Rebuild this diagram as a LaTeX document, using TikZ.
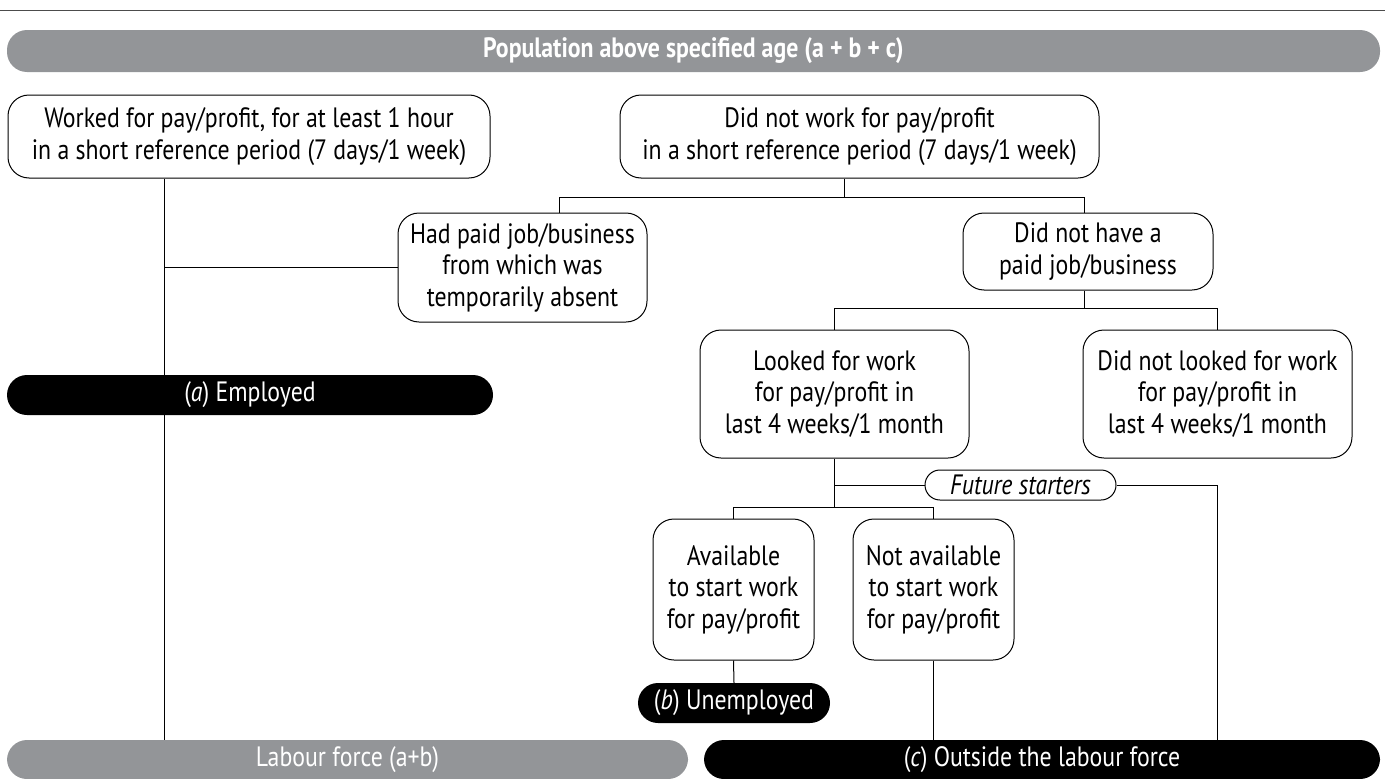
\documentclass[tikz,border=0pt]{standalone}
\usepackage{fontspec}
\setmainfont[FakeStretch=0.85]{PT Sans}
\definecolor{barGrey}{RGB}{147,149,152}
\begin{document}
\begin{tikzpicture}[x=1pt,y=-1pt,
    box/.style={draw, line width=1pt, rounded corners=21pt, align=center, inner sep=0pt},
    darkbar/.style={fill=black, text=white, rounded corners=20pt, inner sep=0pt},
    greybar/.style={fill=barGrey, text=white, rounded corners=20pt, inner sep=0pt},
    font=\fontsize{28}{31.5}\selectfont]
        \useasboundingbox (0,0) rectangle (1385,779);
        % \draw[help lines, gray!50, very thin] (0,0) grid[step=100] (1385,779);

        \draw[line width=1pt, black!70] (0,10) -- (1385,10);

        \node[greybar, minimum width=1373pt, minimum height=42pt] (pop) at (693.5,51) {\textbf{Population above specified age (a + b + c)}};

        \node[box, minimum width=482pt, minimum height=83pt] (work) at (249,136.5) {Worked for pay/profit, for at least 1 hour\\in a short reference period (7 days/1 week)};
        \node[box, minimum width=479pt, minimum height=83pt] (notwork) at (859.5,136.5) {Did not work for pay/profit\\in a short reference period (7 days/1 week)};

        \node[box, minimum width=249pt, minimum height=109pt] (absent) at (522.5,267.5) {Had paid job/business\\from which was\\temporarily absent};
        \node[box, minimum width=250pt, minimum height=77pt] (nojob) at (1088,251.5) {Did not have a\\paid job/business};

        \node[darkbar, minimum width=486pt, minimum height=40pt] (emp) at (250,395) {(\textit{a}) Employed};

        \node[box, minimum width=269pt, minimum height=128pt] (looked) at (834.5,394) {Looked for work\\for pay/profit in\\last 4 weeks/1 month};
        \node[box, minimum width=269pt, minimum height=128pt] (notlooked) at (1217.5,394) {Did not looked for work\\for pay/profit in\\last 4 weeks/1 month};

        \node[box, rounded corners=15pt, minimum width=191pt, minimum height=30pt] (future) at (1020.5,485) {\itshape Future starters};

        \node[box, minimum width=161pt, minimum height=141pt] (avail) at (733.5,589.5) {Available\\to start work\\for pay/profit};
        \node[box, minimum width=161pt, minimum height=141pt] (notavail) at (933.5,589.5) {Not available\\to start work\\for pay/profit};

        \node[darkbar, minimum width=192pt, minimum height=40pt] (unemp) at (734,703) {(\textit{b}) Unemployed};

        \node[greybar, minimum width=681pt, minimum height=39pt] (labour) at (347.5,759.5) {Labour force (a+b)};
        \node[darkbar, minimum width=676pt, minimum height=39pt] (outside) at (1042,759.5) {(\textit{c}) Outside the labour force};

        % branch points and bus levels
        \coordinate (w1) at ([xshift=-85pt]work.south);
        \coordinate (n1) at ([xshift=-15.5pt]notwork.south);
        \coordinate (a1) at ([xshift=36.5pt]absent.north);
        \coordinate (j1) at ([xshift=-4pt]nojob.north);
        \coordinate (j2) at ([xshift=-4pt]nojob.south);
        \coordinate (bus1) at (0,197);
        \coordinate (bus2) at (0,308);
        \coordinate (bus3) at (0,507);

        \begin{scope}[line width=1pt]
        \draw (w1) -- (w1 |- emp.north);
        \draw (w1 |- emp.south) -- (w1 |- labour.north);
        \draw (w1 |- absent.west) -- (absent.west);

        \draw (n1) -- (n1 |- bus1);
        \draw (a1) |- (j1 |- bus1) -- (j1);

        \draw (j2) -- (j2 |- bus2);
        \draw (looked.north) |- (notlooked.north |- bus2) -- (notlooked.north);

        \draw (looked.south) -- (looked.south |- bus3);
        \draw (avail.north) |- (notavail.north |- bus3) -- (notavail.north);
        \draw (looked.south |- future.west) -- (future.west);
        \draw (future.east) -| (notlooked.south |- outside.north);

        \draw (avail.south) -- (unemp.north);
        \draw (notavail.south) -- (notavail.south |- outside.north);
        \end{scope}
      \end{tikzpicture}
\end{document}
